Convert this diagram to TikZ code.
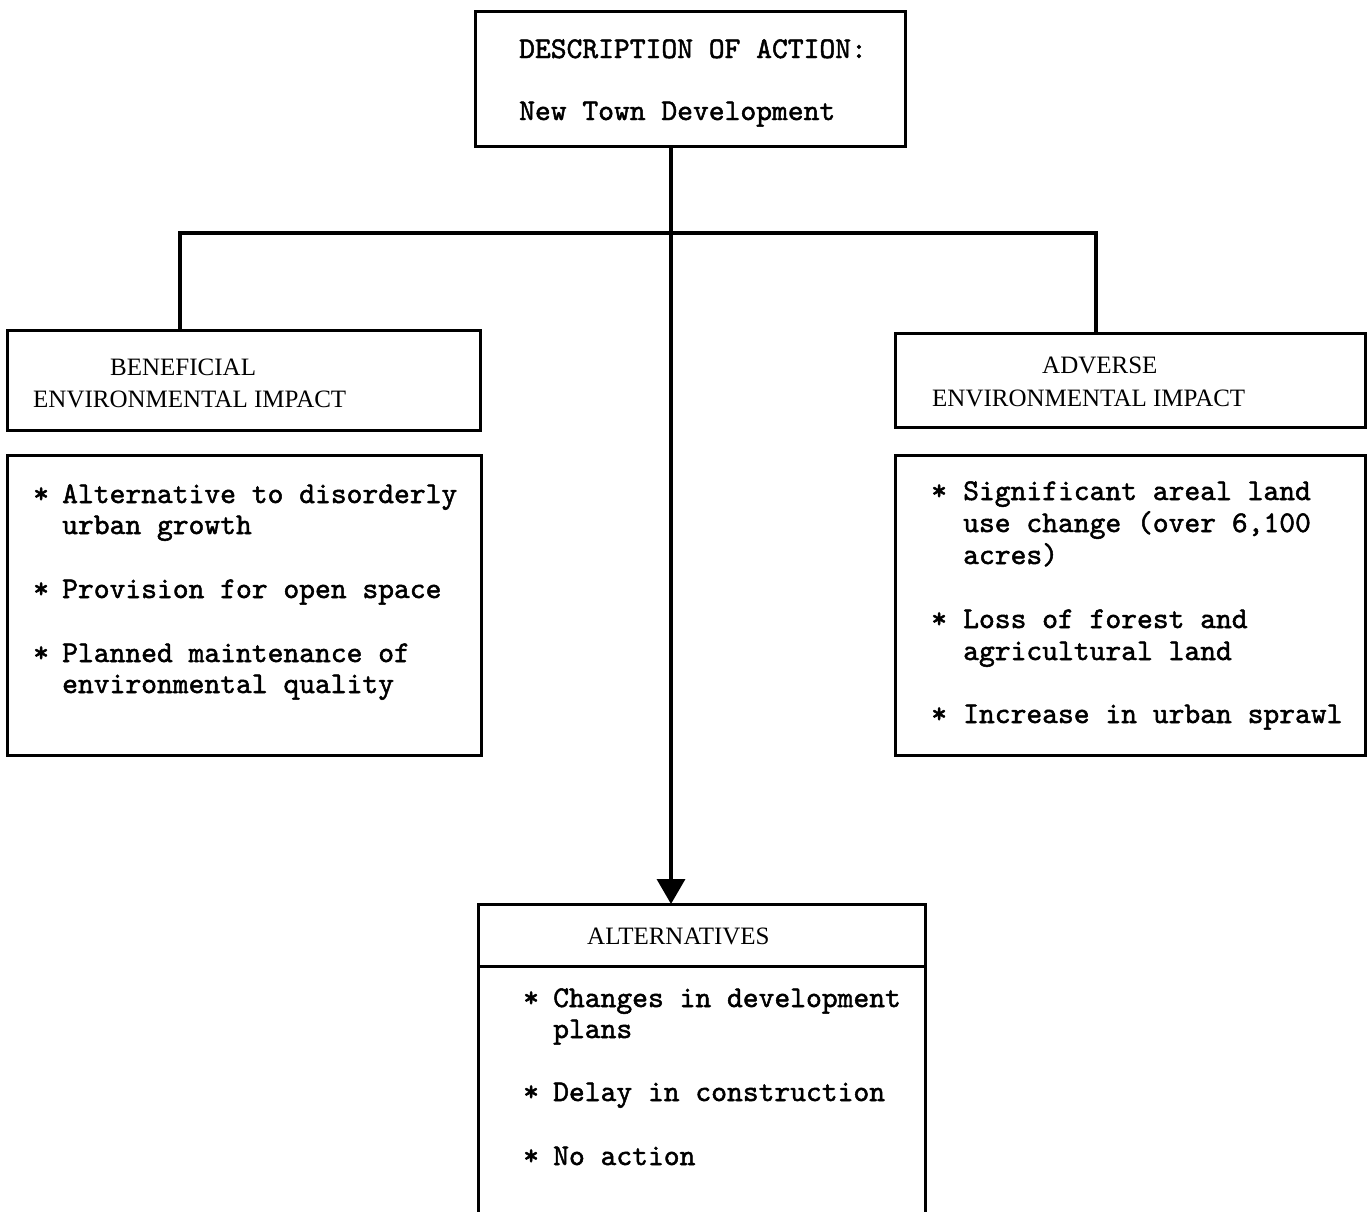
\documentclass[tikz,border=0pt]{standalone}
\usepackage{fontspec}
\usetikzlibrary{arrows.meta,calc}
\newfontfamily\typewriter{lmmono10-regular.otf}[FakeBold=1.6]
\newfontfamily\headserif{Liberation Serif}
\begin{document}
\begin{tikzpicture}[x=1pt,y=-1pt,
  frame/.style={draw, line width=3pt, anchor=north west, inner sep=0pt, outer sep=0pt},
  tw/.style={anchor=base west, inner sep=0pt, font=\typewriter\fontsize{30.1}{36}\selectfont},
  hd/.style={anchor=base west, inner sep=0pt, font=\headserif\fontsize{25}{30}\selectfont},
  link/.style={line width=3.5pt},
]
\useasboundingbox (0,0) rectangle (1367,1211);
\fill[white] (0,0) rectangle (1367,1211);

% boxes
\node[frame, minimum width=430pt, minimum height=135pt] (action) at (475,11) {};
\node[frame, minimum width=473pt, minimum height=100pt] (benhead) at (7,330) {};
\node[frame, minimum width=474pt, minimum height=300pt] (benbody) at (7,455) {};
\node[frame, minimum width=470pt, minimum height=94pt] (advhead) at (895,333) {};
\node[frame, minimum width=470pt, minimum height=300pt] (advbody) at (895,455) {};
\node[frame, minimum width=447pt, minimum height=340pt] (alt) at (478,904) {};
\draw[line width=3pt] ($(alt.north west)+(0,62)$) -- ($(alt.north east)+(0,62)$);

% connectors
\coordinate (stem) at (671,0);
\coordinate (lj) at (180,233);
\coordinate (rj) at (1096,233);
\draw[link] (lj |- benhead.north) -- (lj) -- (rj) -- (rj |- advhead.north);
\draw[link, -{Triangle[length=25pt, width=28pt]}] (stem |- action.south) -- (stem |- alt.north);

% action
\node[tw] (a1) at (519,58) {DESCRIPTION OF ACTION:};
\node[tw] (a2) at (519,120) {New Town Development};

% beneficial
\node[hd] (bh1) at (110,375) {BENEFICIAL};
\node[hd] (bh2) at (33,407) {ENVIRONMENTAL IMPACT};
\node[tw] (bs1) at (33,503) {*};
\node[tw] (b1) at (62,503) {Alternative to disorderly};
\node[tw] (b2) at (62,534) {urban growth};
\node[tw] (bs2) at (33,598) {*};
\node[tw] (b3) at (62,598) {Provision for open space};
\node[tw] (bs3) at (33,662) {*};
\node[tw] (b4) at (62,662) {Planned maintenance of};
\node[tw] (b5) at (62,693) {environmental quality};

% adverse
\node[hd] (ah1) at (1042,373) {ADVERSE};
\node[hd] (ah2) at (932,406) {ENVIRONMENTAL IMPACT};
\node[tw] (as1) at (931,500) {*};
\node[tw] (d1) at (963,500) {Significant areal land};
\node[tw] (d2) at (963,532) {use change (over 6,100};
\node[tw] (d3) at (963,564) {acres)};
\node[tw] (as2) at (931,628) {*};
\node[tw] (d4) at (963,628) {Loss of forest and};
\node[tw] (d5) at (963,660) {agricultural land};
\node[tw] (as3) at (931,723) {*};
\node[tw] (d6) at (963,723) {Increase in urban sprawl};

% alternatives
\node[hd] (lh) at (587,944) {ALTERNATIVES};
\node[tw] (ls1) at (523,1007) {*};
\node[tw] (l1) at (553,1007) {Changes in development};
\node[tw] (l2) at (553,1038) {plans};
\node[tw] (ls2) at (523,1101) {*};
\node[tw] (l3) at (553,1101) {Delay in construction};
\node[tw] (ls3) at (523,1165) {*};
\node[tw] (l4) at (553,1165) {No action};
\end{tikzpicture}
\end{document}
